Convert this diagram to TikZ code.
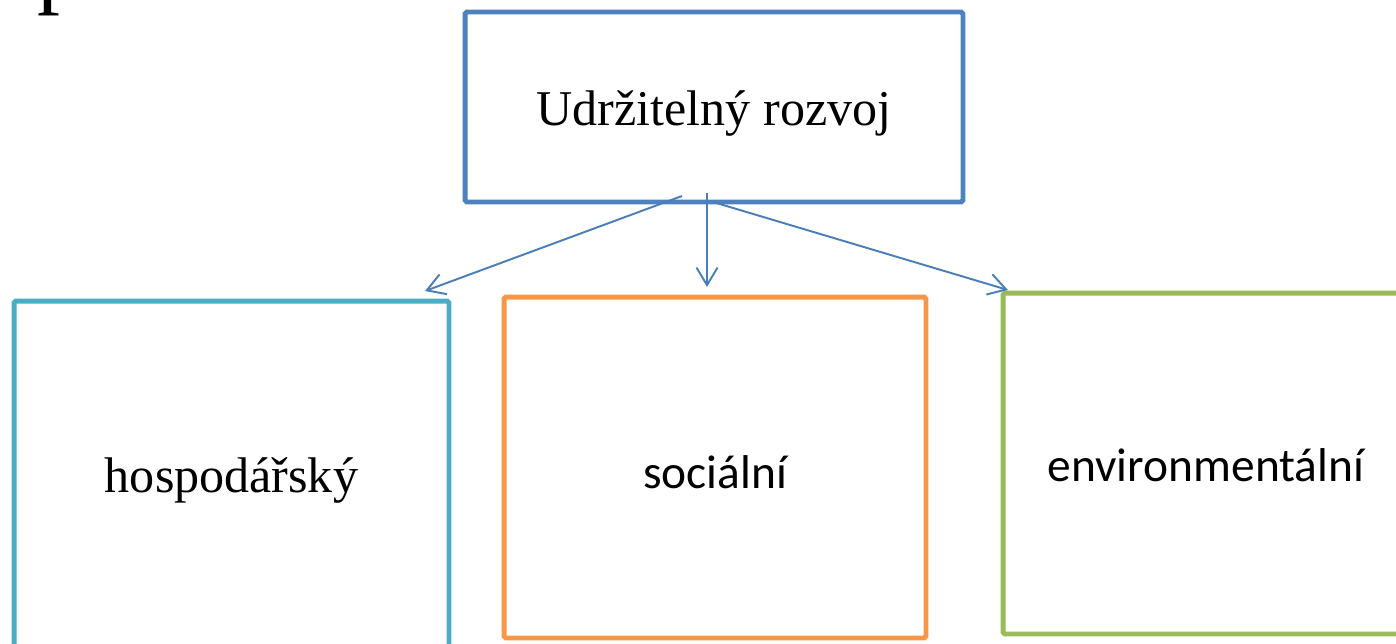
\documentclass[tikz,border=0pt]{standalone}
\usepackage{fontspec}
\setmainfont{Liberation Serif}
\newfontfamily\pillarsans{Carlito}
\usetikzlibrary{arrows.meta}
\definecolor{goalblue}{HTML}{4F81BD}
\definecolor{econteal}{HTML}{4BACC6}
\definecolor{socorange}{HTML}{F79646}
\definecolor{envgreen}{HTML}{9BBB59}
\definecolor{linkblue}{HTML}{4A7EBB}
\tikzset{
	pillar/.style={draw, line width=2.8pt, rounded corners=1pt, inner sep=0pt, align=center},
	seriftext/.style={font=\fontsize{28.5}{34}\selectfont},
	sanstext/.style={font=\pillarsans\fontsize{27}{32}\selectfont},
	link/.style={draw=linkblue, line width=1.1pt, -{Straight Barb[length=10pt,width=12pt]}},
}

\begin{document}
\begin{tikzpicture}[x=0.02cm,y=-0.02cm]
	\useasboundingbox (0,0) rectangle (1396,643);
	\clip (0,0) rectangle (1396,643);
	% cut-off letter at the top edge
	\node[anchor=base west, inner sep=0pt, font=\fontsize{52}{52}\selectfont] (cutletter) at (37,-4) {p};
	%
	\node[pillar, draw=goalblue, minimum width=9.96cm, minimum height=3.8cm, seriftext, text height=27pt] (goal) at (714,107) {Udržitelný rozvoj};
	\node[pillar, draw=econteal, minimum width=8.7cm, minimum height=7.16cm, seriftext] (econ) at (231.5,480) {hospodářský};
	\node[pillar, draw=socorange, minimum width=8.44cm, minimum height=6.82cm, sanstext, text height=24pt] (soc) at (715,467.5) {sociální};
	\node[pillar, draw=envgreen, minimum width=8.12cm, minimum height=6.82cm, sanstext, text height=21pt] (env) at (1206,463.5) {environmentální};
	%
	\coordinate (goalleft) at (682,196);
	\coordinate (goalmid) at (707,193);
	\coordinate (goalright) at (713,202);
	\coordinate (econtip) at (425,291);
	\coordinate (soctip) at (707,287);
	\coordinate (envtip) at (1008,290);
	\draw[link] (goalleft) -- (econtip);
	\draw[link] (goalmid) -- (soctip);
	\draw[link] (goalright) -- (envtip);
\end{tikzpicture}
\end{document}
